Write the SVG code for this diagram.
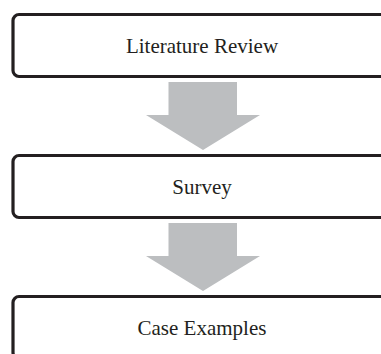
<svg xmlns="http://www.w3.org/2000/svg" width="381" height="354" viewBox="0 0 381 354">
<style>
.box{fill:#fff;stroke:#231f20;stroke-width:3.2}
.lbl{font-family:"Liberation Serif","Times New Roman",serif;font-size:21px;fill:#231f20;text-anchor:middle}
.arr{fill:#bcbec0}
</style>
<rect width="381" height="354" fill="#fff"/>
<g id="connectors">
<polygon class="arr" points="168.5,82 237,82 237,115 260,115 203,150 146,115 168.5,115"/>
<polygon class="arr" points="168.5,223 237,223 237,256 260,256 203,291 146,256 168.5,256"/>
</g>
<g id="n1">
<rect class="box" x="13" y="14.5" width="382" height="62" rx="6"/>
<text class="lbl" x="202" y="53">Literature Review</text>
</g>
<g id="n2">
<rect class="box" x="13" y="155.5" width="382" height="62" rx="6"/>
<text class="lbl" x="202" y="194">Survey</text>
</g>
<g id="n3">
<rect class="box" x="13" y="296.5" width="382" height="62" rx="6"/>
<text class="lbl" x="202" y="335">Case Examples</text>
</g>
</svg>
